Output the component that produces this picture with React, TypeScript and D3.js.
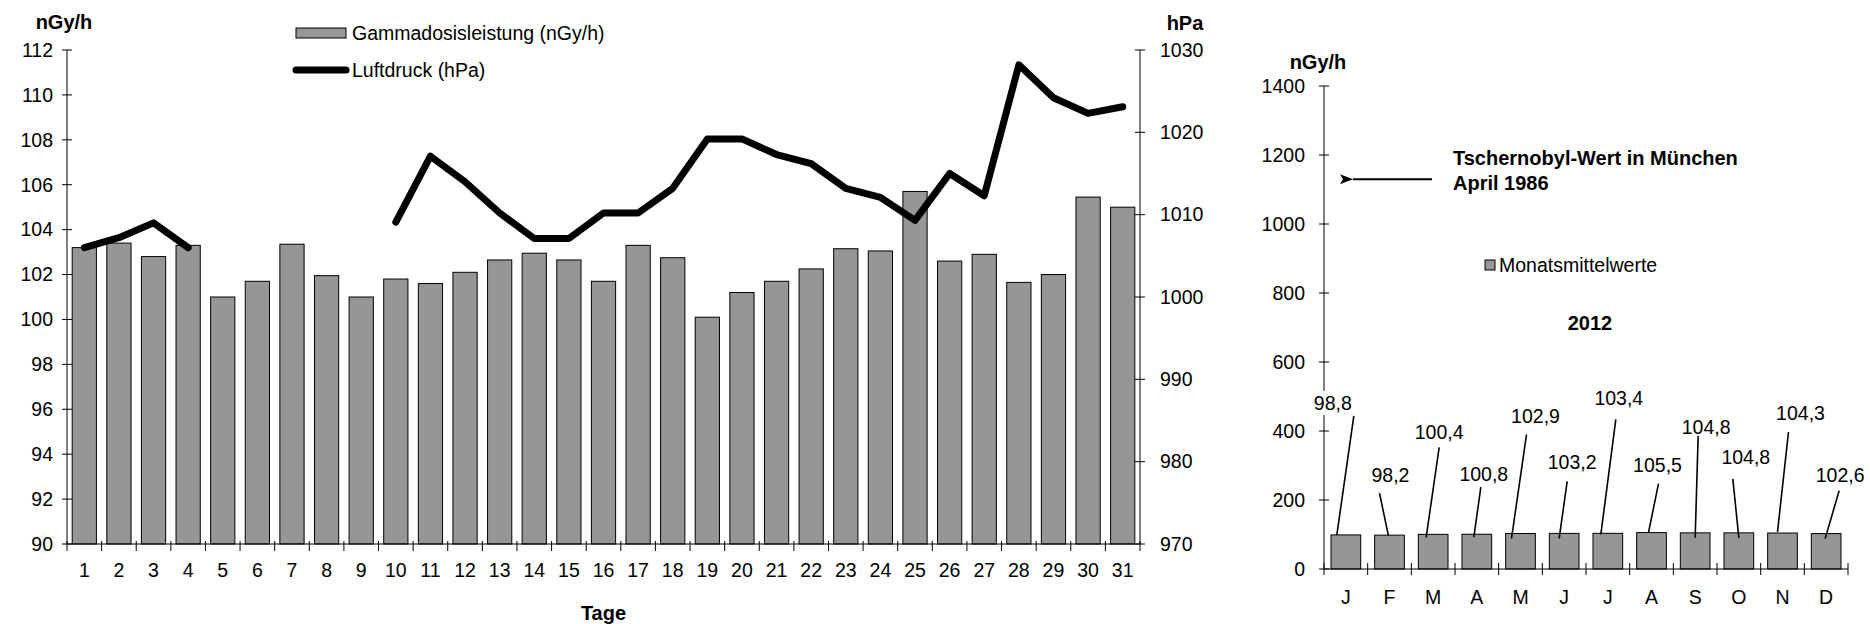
import React from "react";
import * as d3 from "d3";

// Tageswerte (Gammadosisleistung in nGy/h, Luftdruck in hPa)
const days = [1, 2, 3, 4, 5, 6, 7, 8, 9, 10, 11, 12, 13, 14, 15, 16, 17, 18, 19, 20, 21, 22, 23, 24, 25, 26, 27, 28, 29, 30, 31];
const gammaDaily = [
  103.2, 103.4, 102.8, 103.3, 101.0, 101.7, 103.35, 101.95, 101.0, 101.8, 101.6, 102.1, 102.65, 102.95, 102.65, 101.7,
  103.3, 102.75, 100.1, 101.2, 101.7, 102.25, 103.15, 103.05, 105.7, 102.6, 102.9, 101.65, 102.0, 105.45, 105.0,
];
const pressureDaily: (number | null)[] = [
  1006, 1007.2, 1009, 1006, null, null, null, null, null, 1009.1, 1017.1, 1014, 1010.2, 1007.1, 1007.1, 1010.2,
  1010.2, 1013.2, 1019.2, 1019.2, 1017.3, 1016.2, 1013.2, 1012.1, 1009.3, 1015, 1012.3, 1028.2, 1024.2, 1022.3, 1023.1,
];
const gammaTicks = [90, 92, 94, 96, 98, 100, 102, 104, 106, 108, 110, 112];
const pressureTicks = [970, 980, 990, 1000, 1010, 1020, 1030];

// Monatsmittelwerte 2012
const months = ["J", "F", "M", "A", "M", "J", "J", "A", "S", "O", "N", "D"];
const monthlyMeans = [98.8, 98.2, 100.4, 100.8, 102.9, 103.2, 103.4, 105.5, 104.8, 104.8, 104.3, 102.6];
const monthlyTicks = [0, 200, 400, 600, 800, 1000, 1200, 1400];
const chernobylValue = 1130;

// manuell verschobene Datenbeschriftungen: [dx, dy] Text, [dx, dy] Start Linie, [dx, dy] Ende Linie
const labelLayout: [number, number, number, number, number, number][] = [
  [-13, -132, 8, -119, -9, 0],
  [1, -60, -10, -42, -1, 1],
  [6, -102, 6, -87, -7, 3],
  [7, -60, 4, -47, -3, 3],
  [15, -117, 6, -99, -9, 5],
  [8, -71, 3, -52, -5, 5],
  [11, -135, 8, -114, -7, 1],
  [6, -67, 7, -49, -3, 0],
  [11, -106, 3, -97, 0, 5],
  [7, -76, -6, -54, 0, 5],
  [18, -120, 6, -101, -5, -1],
  [14, -58, 13, -43, -1, 5],
];

const FONT = "'Liberation Sans', Arial, Helvetica, sans-serif";
const FS = 19.5;
const BAR_FILL = "#969696";

export default function App() {
  const width = 1870;
  const height = 624;

  // linkes Diagramm
  const L = { left: 67, right: 1140, top: 50, bottom: 544 };
  const x = d3.scaleBand<number>().domain(days).range([L.left, L.right]).paddingInner(0.3).paddingOuter(0.15);
  const yG = d3.scaleLinear().domain([90, 112]).range([L.bottom, L.top]);
  const yP = d3.scaleLinear().domain([970, 1030]).range([L.bottom, L.top]);
  const step = x.step();
  const line = d3
    .line<number | null>()
    .defined((d) => d != null)
    .x((_, i) => x(days[i])! + x.bandwidth() / 2)
    .y((d) => yP(d as number));

  // rechtes Diagramm
  const R = { left: 1324, right: 1848, top: 86, bottom: 569 };
  const idx = months.map((_, i) => i);
  const xm = d3.scaleBand<number>().domain(idx).range([R.left, R.right]).paddingInner(0.32).paddingOuter(0.16);
  const ym = d3.scaleLinear().domain([0, 1400]).range([R.bottom, R.top]);
  const fmt = (v: number) => d3.format(".1f")(v).replace(".", ",");

  const txt = { fontFamily: FONT, fontSize: FS, fill: "#000" } as const;

  return (
    <svg width={width} height={height} style={{ position: "absolute", left: 0, top: 0, background: "#fff" }}>
      <defs>
        <marker id="arrow" viewBox="0 0 13 10" refX="0" refY="5" markerWidth="13" markerHeight="10" orient="auto-start-reverse" markerUnits="userSpaceOnUse">
          <path d="M13,0 L0,5 L13,10 L10,5 Z" fill="#000" />
        </marker>
      </defs>

      {/* Balken Gammadosisleistung */}
      {gammaDaily.map((v, i) => (
        <rect
          key={"b" + i}
          x={x(days[i])}
          y={yG(v)}
          width={x.bandwidth()}
          height={yG(90) - yG(v)}
          fill={BAR_FILL}
          stroke="#000"
          strokeWidth={1}
        />
      ))}

      {/* Luftdruck */}
      <path d={line(pressureDaily) || ""} fill="none" stroke="#000" strokeWidth={7} strokeLinejoin="round" strokeLinecap="round" />

      {/* linke Achse */}
      <line x1={L.left} x2={L.left} y1={L.top} y2={L.bottom} stroke="#000" />
      {gammaTicks.map((t) => (
        <g key={"gt" + t}>
          <line x1={L.left - 5} x2={L.left + 5} y1={yG(t)} y2={yG(t)} stroke="#000" />
          <text x={L.left - 14} y={yG(t)} dy="0.35em" textAnchor="end" {...txt}>
            {t}
          </text>
        </g>
      ))}
      <text x={64} y={22} dy="0.35em" textAnchor="middle" fontFamily={FONT} fontSize={20} fontWeight="bold">
        nGy/h
      </text>

      {/* rechte Achse */}
      <line x1={L.right} x2={L.right} y1={L.top} y2={L.bottom} stroke="#000" />
      {pressureTicks.map((t) => (
        <g key={"pt" + t}>
          <line x1={L.right - 5} x2={L.right + 5} y1={yP(t)} y2={yP(t)} stroke="#000" />
          <text x={L.right + 20} y={yP(t)} dy="0.35em" textAnchor="start" {...txt}>
            {t}
          </text>
        </g>
      ))}
      <text x={1185} y={23} dy="0.35em" textAnchor="middle" fontFamily={FONT} fontSize={20} fontWeight="bold">
        hPa
      </text>

      {/* x-Achse Tage */}
      <line x1={L.left} x2={L.right} y1={L.bottom} y2={L.bottom} stroke="#000" />
      {d3.range(days.length + 1).map((i) => (
        <line key={"xt" + i} x1={L.left + i * step} x2={L.left + i * step} y1={L.bottom - 3} y2={L.bottom + 7} stroke="#000" />
      ))}
      {days.map((d) => (
        <text key={"xl" + d} x={x(d)! + x.bandwidth() / 2} y={570} dy="0.35em" textAnchor="middle" {...txt}>
          {d}
        </text>
      ))}
      <text x={(L.left + L.right) / 2} y={613} dy="0.35em" textAnchor="middle" fontFamily={FONT} fontSize={20} fontWeight="bold">
        Tage
      </text>

      {/* Legende */}
      <rect x={296} y={28} width={50} height={10} fill={BAR_FILL} stroke="#000" />
      <text x={352} y={33} dy="0.35em" {...txt}>
        Gammadosisleistung (nGy/h)
      </text>
      <line x1={296} x2={346} y1={70} y2={70} stroke="#000" strokeWidth={7} strokeLinecap="round" />
      <text x={352} y={70} dy="0.35em" {...txt}>
        Luftdruck (hPa)
      </text>

      {/* ---------- rechtes Diagramm ---------- */}
      <line x1={R.left} x2={R.left} y1={R.top} y2={R.bottom} stroke="#000" />
      {monthlyTicks.map((t) => (
        <g key={"mt" + t}>
          <line x1={R.left - 5} x2={R.left + 5} y1={ym(t)} y2={ym(t)} stroke="#000" />
          <text x={R.left - 19} y={ym(t)} dy="0.35em" textAnchor="end" {...txt}>
            {t}
          </text>
        </g>
      ))}
      <text x={1318} y={62} dy="0.35em" textAnchor="middle" fontFamily={FONT} fontSize={20} fontWeight="bold">
        nGy/h
      </text>

      {monthlyMeans.map((v, i) => (
        <rect
          key={"mb" + i}
          x={xm(i)}
          y={ym(v)}
          width={xm.bandwidth()}
          height={ym(0) - ym(v)}
          fill={BAR_FILL}
          stroke="#000"
          strokeWidth={1}
        />
      ))}

      <line x1={R.left} x2={R.right} y1={R.bottom} y2={R.bottom} stroke="#000" />
      {d3.range(months.length + 1).map((i) => (
        <line
          key={"mxt" + i}
          x1={R.left + i * xm.step()}
          x2={R.left + i * xm.step()}
          y1={R.bottom - 6}
          y2={R.bottom + 6}
          stroke="#000"
        />
      ))}
      {months.map((m, i) => (
        <text key={"ml" + i} x={xm(i)! + xm.bandwidth() / 2} y={597} dy="0.35em" textAnchor="middle" {...txt}>
          {m}
        </text>
      ))}

      {/* Datenbeschriftungen mit Führungslinien */}
      {monthlyMeans.map((v, i) => {
        const cx = xm(i)! + xm.bandwidth() / 2;
        const top = ym(v);
        const [tx, ty, sx, sy, ex, ey] = labelLayout[i];
        const label = fmt(v);
        const w = label.length * 10.5;
        return (
          <g key={"dl" + i}>
            <rect x={cx + tx - w / 2 - 2} y={top + ty - 12} width={w + 4} height={24} fill="#fff" />
            <line x1={cx + sx} y1={top + sy} x2={cx + ex} y2={top + ey} stroke="#000" strokeWidth={1.6} />
            <text x={cx + tx} y={top + ty} dy="0.35em" textAnchor="middle" {...txt}>
              {label}
            </text>
          </g>
        );
      })}

      {/* Tschernobyl-Hinweis */}
      <line x1={1432} x2={1353} y1={ym(chernobylValue)} y2={ym(chernobylValue)} stroke="#000" strokeWidth={2} markerEnd="url(#arrow)" />
      <text x={1453} y={158} dy="0.35em" fontFamily={FONT} fontSize={20} fontWeight="bold">
        Tschernobyl-Wert in München
      </text>
      <text x={1453} y={183} dy="0.35em" fontFamily={FONT} fontSize={20} fontWeight="bold">
        April 1986
      </text>

      {/* Legende rechts */}
      <rect x={1485} y={260} width={10} height={10} fill={BAR_FILL} stroke="#000" />
      <text x={1499} y={265} dy="0.35em" {...txt}>
        Monatsmittelwerte
      </text>
      <text x={1590} y={323} dy="0.35em" textAnchor="middle" fontFamily={FONT} fontSize={20} fontWeight="bold">
        2012
      </text>
    </svg>
  );
}
